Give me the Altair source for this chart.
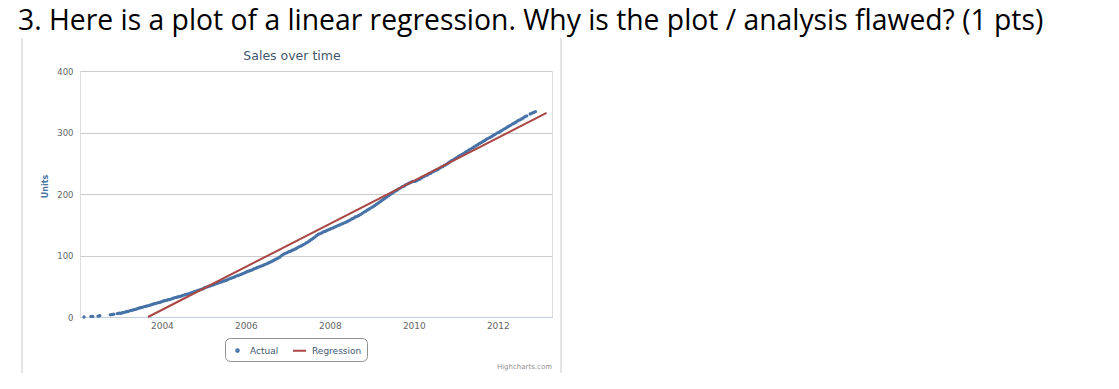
import altair as alt
import pandas as pd

# ---- data ----
heading = "3. Here is a plot of a linear regression. Why is the plot / analysis flawed? (1 pts)"
chart_title = "Sales over time"
credit = "Highcharts.com"
series_names = ["Actual", "Regression"]
series_colors = ["#4572A7", "#AA4643"]

years = [2002, 2003, 2004, 2005, 2006, 2007, 2008, 2009, 2010, 2011, 2012]
# half-monthly values (24 per year), None = no point
actual_by_year = [
    [None, None, None, 0, None, None, None, 1, 1, None, None, 1.5,
     2, None, None, None, None, None, 3.5, 4, 4.5, None, 5.5, 6],
    [6, 7, 7.5, 8.5, 9, 10, 10.5, 11.5, 12, 13, 14, 15,
     15.5, 16.5, 17, 18, 18.5, 19.5, 20.5, 21.5, 22, 23, 23.5, 24.5],
    [25.5, 26.5, 27, 28, 28.5, 29.5, 30.5, 31.5, 32, 33, 33.5, 34.5,
     35.5, 36.5, 37, 38, 39, 40, 41, 42, 43, 44, 45, 46],
    [47.5, 48.5, 49.5, 50.5, 51.5, 52.5, 53.5, 54.5, 55.5, 56.5, 57.5, 58.5,
     59.5, 60.5, 62, 63, 64, 65, 66.5, 67.5, 68.5, 69.5, 71, 72],
    [73.5, 74.5, 75.5, 76.5, 78, 79, 80.5, 81.5, 82.5, 83.5, 85, 86,
     87.5, 88.5, 90, 91.5, 93, 94.5, 96, 97.5, 100, 102, 103.5, 104.5],
    [106, 107, 108.5, 109.5, 111, 112.5, 114.5, 115.5, 117, 118.5, 120.5, 122,
     124, 126, 128, 130, 132.5, 134.5, 135.5, 137, 138.5, 139.5, 141, 142],
    [143.5, 144.5, 146, 147, 148.5, 149.5, 151, 152, 153.5, 154.5, 156, 157.5,
     159.5, 160.5, 162.5, 163.5, 165, 166.5, 168.5, 170.5, 172, 174, 175.5, 177.5],
    [179, 181, 183, 185, 187, 189, 191, 193, 195, 197, 199, 201,
     203, 205, 206.5, 208.5, 210, 212, 213, 215, 216.5, 218, 219, 220.5],
    [220.5, 221.5, 223, 224.5, 226.5, 228, 229.5, 230.5, 232.5, 233.5, 235.5, 237,
     238.5, 239.5, 241.5, 243.5, 244.5, 246.5, 248, 250, 252, 254, 255.5, 257.5],
    [259, 261, 262.5, 264.5, 266, 268, 269.5, 271.5, 273, 275, 276.5, 278.5,
     280, 282, 283.5, 285.5, 287, 289, 290.5, 292, 293.5, 295.5, 297, 299],
    [300, 302, 303.5, 305.5, 307, 309, 310.5, 312, 314, 315.5, 317, 319,
     320.5, 322, 323.5, 325.5, 327, None, 330, 331.5, 332.5, 334, None, None],
]
regression_t = [2003.67, 2013.16]
regression_units = [0, 332]

x_ticks = [2004, 2006, 2008, 2010, 2012]
y_ticks = [0, 100, 200, 300, 400]

# ---- tables ----
rows = []
for yr, vals in zip(years, actual_by_year):
    for k, v in enumerate(vals):
        if v is not None:
            rows.append({"t": yr + (k + 0.5) / 24, "units": v, "series": "Actual"})
actual_df = pd.DataFrame(rows)
reg_df = pd.DataFrame({"t": regression_t, "units": regression_units})

FONT = "DejaVu Sans"
xscale = alt.Scale(domain=[2002.05, 2013.29], nice=False, zero=False)
yscale = alt.Scale(domain=[0, 400], nice=False)

dot_path = "M-0.2,0A0.2,0.2,0,1,0,0.2,0A0.2,0.2,0,1,0,-0.2,0Z"
line_path = "M-1,0L1,0"

legend = alt.Legend(
    title=None, orient="none", legendX=145, legendY=267, direction="horizontal",
    strokeColor="#909090", cornerRadius=5, padding=5, fillColor="white",
    labelFont=FONT, labelFontSize=9, labelColor="#3E576F", labelOffset=5,
    columnPadding=10, symbolSize=169, symbolStrokeWidth=2,
)

x_axis = alt.Axis(values=x_ticks, format="d", title=None, grid=False, ticks=False,
                  domainColor="#C0D0E0", domainWidth=1, labelFont=FONT,
                  labelFontSize=9, labelColor="#666666", labelPadding=4)
y_axis = alt.Axis(values=y_ticks, title="Units", grid=True, gridColor="#CCCCCC",
                  domain=False, ticks=False, labelFont=FONT, labelFontSize=8.5,
                  labelColor="#666666", labelPadding=7,
                  titleFont=FONT, titleFontSize=8, titleFontWeight="bold",
                  titleColor="#4D759E", titleX=-35, titleY=115, titleAngle=270,
                  titleAlign="center", titleBaseline="middle")

points = alt.Chart(actual_df).mark_point(
    filled=False, size=64, strokeWidth=1.8, opacity=1
).encode(
    x=alt.X("t:Q", scale=xscale, axis=x_axis),
    y=alt.Y("units:Q", scale=yscale, axis=y_axis),
    color=alt.Color("series:N", scale=alt.Scale(domain=series_names, range=series_colors), legend=legend),
    shape=alt.Shape("series:N", scale=alt.Scale(domain=series_names, range=[dot_path, line_path]), legend=legend),
)

reg_line = alt.Chart(reg_df).mark_line(color=series_colors[1], strokeWidth=2).encode(
    x=alt.X("t:Q", scale=xscale),
    y=alt.Y("units:Q", scale=yscale),
)

heading_text = alt.Chart(pd.DataFrame({"s": [heading]})).mark_text(
    align="left", baseline="alphabetic", font="Open Sans", fontSize=28.3, color="#000000"
).encode(x=alt.value(-62), y=alt.value(-41), text="s:N")

title_text = alt.Chart(pd.DataFrame({"s": [chart_title]})).mark_text(
    align="center", baseline="alphabetic", font=FONT, fontSize=12.5, color="#3E576F"
).encode(x=alt.value(212), y=alt.value(-11), text="s:N")

credit_text = alt.Chart(pd.DataFrame({"s": [credit]})).mark_text(
    align="right", baseline="alphabetic", font=FONT, fontSize=7, color="#909090"
).encode(x=alt.value(472), y=alt.value(298), text="s:N")

border = alt.Chart(pd.DataFrame({"b": [-58, 481]})).mark_rule(
    color="#C8C8C8", strokeWidth=1
).encode(x=alt.X("b:Q", scale=None), y=alt.value(-33), y2=alt.value(302))

chart = alt.layer(border, points, reg_line, heading_text, title_text, credit_text).properties(
    width=472, height=246,
    autosize=alt.AutoSizeParams(type="none"),
    padding={"left": 72, "top": 63, "right": 540, "bottom": 60},
).configure_view(stroke=None).configure(background="white")

chart.save("out.html", embed_options={"renderer": "svg", "actions": False})
